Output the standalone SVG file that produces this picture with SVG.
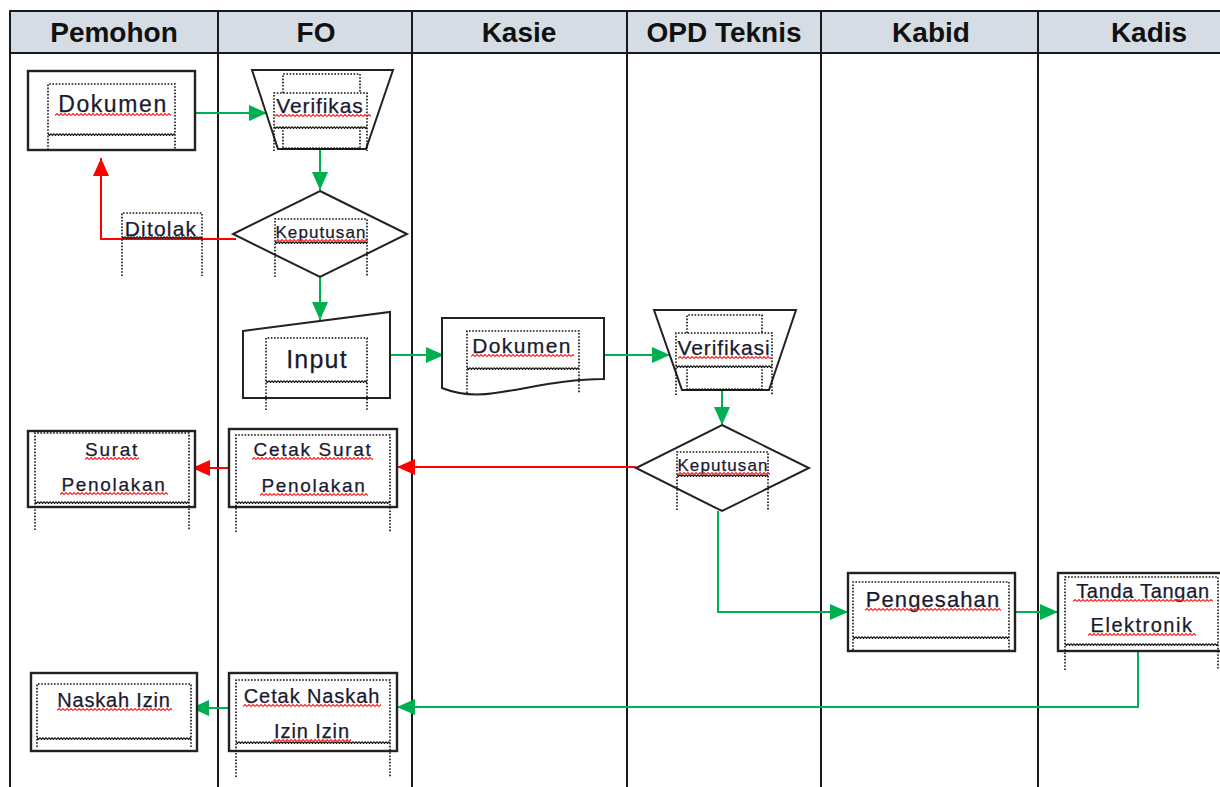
<svg xmlns="http://www.w3.org/2000/svg" width="1220" height="787" viewBox="0 0 1220 787">
<style>
.ln{stroke:#1a1a1a;stroke-width:2;fill:none}
.hdr{fill:#d6dce4;stroke:#1a1a1a;stroke-width:2}
.ht{font-family:"Liberation Sans",Arial,sans-serif;font-weight:bold;font-size:28px;fill:#111;text-anchor:middle}
.sh{fill:#fff;stroke:#222;stroke-width:2}
.box{fill:#fff;stroke:#222;stroke-width:2.4}
.dot{fill:none;stroke:#111;stroke-width:1.6;stroke-dasharray:1.6 1.6}
.t{font-family:"Liberation Sans",Arial,sans-serif;fill:#1a1a30;text-anchor:middle;stroke:#1a1a30;stroke-width:0.25}
.g{stroke:#00b050;stroke-width:2;fill:none}
.r{stroke:#ff0000;stroke-width:2;fill:none}
.sq{fill:url(#sq)}
.hz{fill:url(#hz)}
</style>
<defs>
<pattern id="sq" width="4" height="3" patternUnits="userSpaceOnUse"><path d="M0,2.5 L2,0.5 L4,2.5" fill="none" stroke="#ff2020" stroke-width="1.1"/></pattern>
<pattern id="hz" width="3" height="3" patternUnits="userSpaceOnUse"><path d="M0,0.5 L1.5,2.5 L3,0.5" fill="none" stroke="#111" stroke-width="1.2"/></pattern>
<marker id="ag" markerUnits="userSpaceOnUse" markerWidth="18" markerHeight="16" refX="18" refY="8" orient="auto" viewBox="0 0 18 16"><path d="M0,0 L18,8 L0,16 Z" fill="#00b050"/></marker>
<marker id="ar" markerUnits="userSpaceOnUse" markerWidth="18" markerHeight="16" refX="18" refY="8" orient="auto" viewBox="0 0 18 16"><path d="M0,0 L18,8 L0,16 Z" fill="#ff0000"/></marker>
</defs>
<rect width="1220" height="787" fill="#fff"/>
<g id="lanes">
<rect class="hdr" x="10" y="11" width="1220" height="42"/>
<path class="ln" d="M10,11 V787 M218,11 V787 M412,11 V787 M627,11 V787 M821,11 V787 M1038,11 V787"/>
<text class="ht" x="114" y="42">Pemohon</text>
<text class="ht" x="316" y="42">FO</text>
<text class="ht" x="519" y="42">Kasie</text>
<text class="ht" x="724" y="42">OPD Teknis</text>
<text class="ht" x="931" y="42">Kabid</text>
<text class="ht" x="1149" y="42">Kadis</text>
</g>
<g id="connectors">
<path class="g" d="M195,113 H267" marker-end="url(#ag)"/>
<path class="g" d="M320,150 V190" marker-end="url(#ag)"/>
<path class="r" d="M236,239 H101 V158" marker-end="url(#ar)"/>
<path class="g" d="M320,277 V320" marker-end="url(#ag)"/>
<path class="g" d="M387,355 H444" marker-end="url(#ag)"/>
<path class="g" d="M604,355 H670" marker-end="url(#ag)"/>
<path class="g" d="M722,390 V425" marker-end="url(#ag)"/>
<path class="r" d="M636,467 H397" marker-end="url(#ar)"/>
<path class="r" d="M230,468 H192" marker-end="url(#ar)"/>
<path class="g" d="M718,511 V612 H848" marker-end="url(#ag)"/>
<path class="g" d="M1015,612 H1058" marker-end="url(#ag)"/>
<path class="g" d="M1138,651 V707 H397" marker-end="url(#ag)"/>
<path class="g" d="M229,708 H191" marker-end="url(#ag)"/>
</g>
<g id="n-dokumen-pemohon">
<rect class="box" x="28" y="71" width="167" height="79"/>
<path class="dot" d="M48,150 V84 H175 V150"/>
<rect class="hz" transform="translate(48,133)" width="127" height="3"/>
<text class="t" x="113" y="112" font-size="23" letter-spacing="1.6">Dokumen</text>
<rect class="sq" transform="translate(55,113)" width="116" height="3"/>
</g>
<g id="n-verifikasi-fo">
<polygon class="sh" points="252,70 393,70 366,149 278,149"/>
<path class="dot" d="M283,93 V74 H360 V93 M274,151 V93 H367 V151 M283,127 V149 M360,127 V149"/>
<rect class="hz" transform="translate(274,126)" width="93" height="3"/>
<rect class="hz" transform="translate(283,147)" width="77" height="3"/>
<text class="t" x="320" y="113" font-size="21" letter-spacing="0.9">Verifikas</text>
<rect class="sq" transform="translate(275,114)" width="96" height="3"/>
</g>
<g id="n-keputusan-fo">
<polygon class="sh" points="320,191 407,234 320,277 233,234"/>
<path class="dot" d="M275,277 V219 H367 V277"/>
<rect class="hz" transform="translate(275,241)" width="92" height="3"/>
<text class="t" x="321" y="238" font-size="17" letter-spacing="1.1">Keputusan</text>
<rect class="sq" transform="translate(276,239)" width="92" height="3"/>
</g>
<g id="n-ditolak">
<path class="dot" d="M122,276 V213 H202 V276"/>
<rect class="hz" transform="translate(122,236)" width="80" height="3"/>
<text class="t" x="161" y="236" font-size="21" letter-spacing="1.2">Ditolak</text>
</g>
<g id="n-input">
<polygon class="sh" points="243,331 390,312 390,398 243,398"/>
<path class="dot" d="M266,410 V338 H367 V410"/>
<rect class="hz" transform="translate(266,380)" width="101" height="3"/>
<text class="t" x="317" y="368" font-size="25" letter-spacing="1.2">Input</text>
</g>
<g id="n-dokumen-kasie">
<path class="sh" d="M442,318 H604 V379 C565,379 530,388 495,393 C470,397 452,392 442,388 Z"/>
<path class="dot" d="M467,393 V331 H579 V393"/>
<rect class="hz" transform="translate(467,367)" width="112" height="3"/>
<text class="t" x="522" y="353" font-size="21" letter-spacing="1.4">Dokumen</text>
<rect class="sq" transform="translate(471,354)" width="103" height="3"/>
</g>
<g id="n-verifikasi-opd">
<polygon class="sh" points="654,310 796,310 769,390 682,390"/>
<path class="dot" d="M687,333 V315 H762 V333 M676,395 V333 H772 V395 M687,366 V390 M762,366 V390"/>
<rect class="hz" transform="translate(676,365)" width="96" height="3"/>
<rect class="hz" transform="translate(687,388)" width="75" height="3"/>
<text class="t" x="724" y="355" font-size="21" letter-spacing="0.9">Verifikasi</text>
<rect class="sq" transform="translate(678,356)" width="93" height="3"/>
</g>
<g id="n-keputusan-opd">
<polygon class="sh" points="722,425 809,468 722,511 636,468"/>
<path class="dot" d="M677,510 V452 H768 V510"/>
<rect class="hz" transform="translate(677,474)" width="91" height="3"/>
<text class="t" x="723" y="471" font-size="17" letter-spacing="1.1">Keputusan</text>
<rect class="sq" transform="translate(678,472)" width="92" height="3"/>
</g>
<g id="n-surat-penolakan">
<rect class="box" x="28" y="431" width="167" height="76"/>
<path class="dot" d="M35,530 V433 H189 V530"/>
<rect class="hz" transform="translate(35,501)" width="154" height="3"/>
<text class="t" x="112" y="456" font-size="19" letter-spacing="1.7">Surat</text>
<text class="t" x="114" y="491" font-size="19" letter-spacing="1.7">Penolakan</text>
<rect class="sq" transform="translate(85,457)" width="54" height="3"/>
<rect class="sq" transform="translate(60,492)" width="108" height="3"/>
</g>
<g id="n-cetak-surat">
<rect class="box" x="229" y="429" width="168" height="78"/>
<path class="dot" d="M236,532 V435 H390 V532"/>
<rect class="hz" transform="translate(236,501)" width="154" height="3"/>
<text class="t" x="313" y="456" font-size="19" letter-spacing="1.7">Cetak Surat</text>
<text class="t" x="314" y="492" font-size="19" letter-spacing="1.7">Penolakan</text>
<rect class="sq" transform="translate(252,457)" width="121" height="3"/>
<rect class="sq" transform="translate(260,493)" width="108" height="3"/>
</g>
<g id="n-pengesahan">
<rect class="box" x="848" y="573" width="167" height="78"/>
<path class="dot" d="M853,650 V582 H1009 V650"/>
<rect class="hz" transform="translate(853,636)" width="156" height="3"/>
<text class="t" x="933" y="607" font-size="22" letter-spacing="1.1">Pengesahan</text>
<rect class="sq" transform="translate(865,608)" width="136" height="3"/>
</g>
<g id="n-tanda-tangan">
<rect class="box" x="1058" y="573" width="170" height="78"/>
<path class="dot" d="M1065,670 V577 H1218 V670"/>
<rect class="hz" transform="translate(1065,643)" width="153" height="3"/>
<text class="t" x="1143" y="598" font-size="20" letter-spacing="0.7">Tanda Tangan</text>
<text class="t" x="1142" y="632" font-size="20" letter-spacing="1.5">Elektronik</text>
<rect class="sq" transform="translate(1073,599)" width="140" height="3"/>
<rect class="sq" transform="translate(1088,633)" width="108" height="3"/>
</g>
<g id="n-naskah-izin">
<rect class="box" x="31" y="673" width="166" height="78"/>
<path class="dot" d="M37,747 V684 H191 V747"/>
<rect class="hz" transform="translate(37,737)" width="154" height="3"/>
<text class="t" x="114" y="707" font-size="20" letter-spacing="0.8">Naskah Izin</text>
<rect class="sq" transform="translate(57,708)" width="115" height="3"/>
</g>
<g id="n-cetak-naskah">
<rect class="box" x="229" y="673" width="168" height="78"/>
<path class="dot" d="M236,777 V680 H390 V777"/>
<rect class="hz" transform="translate(236,741)" width="154" height="3"/>
<text class="t" x="312" y="703" font-size="20" letter-spacing="0.9">Cetak Naskah</text>
<text class="t" x="312" y="738" font-size="20" letter-spacing="0.9">Izin Izin</text>
<rect class="sq" transform="translate(243,704)" width="138" height="3"/>
<rect class="sq" transform="translate(273,739)" width="78" height="3"/>
</g>
</svg>
